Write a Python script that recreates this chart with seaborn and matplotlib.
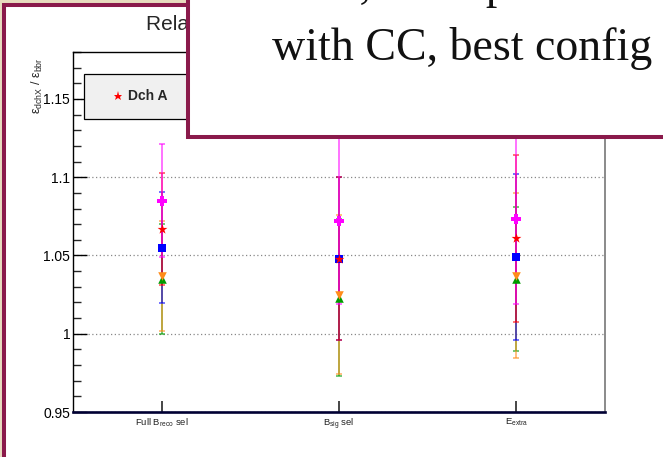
import matplotlib
matplotlib.use("Agg")
import matplotlib.pyplot as plt
import seaborn as sns
import pandas as pd
from matplotlib.patches import Rectangle
from matplotlib.lines import Line2D
from matplotlib.ticker import MultipleLocator, FixedLocator, FuncFormatter

# ---------------- data ----------------
categories = ["Full B$_{reco}$ sel", "B$_{sig}$ sel", "E$_{extra}$"]
series_names = ["Dch A", "Dch B", "Dch C", "Dch D", "Dch E"]

dch_a = [1.067, 1.048, 1.061]          # red stars
dch_a_err = [0.036, 0.052, 0.0535]
dch_b = [1.055, 1.048, 1.049]          # blue squares
dch_b_err = [0.0355, 0.052, 0.053]
dch_c = [1.035, 1.023, 1.035]          # green triangles
dch_c_err = [0.035, 0.050, 0.046]
dch_d = [1.037, 1.025, 1.037]          # orange triangles (down)
dch_d_err = [0.035, 0.051, 0.0527]
dch_e = [1.085, 1.072, 1.073]          # magenta crosses
dch_e_err = [0.036, 0.053, 0.054]

title_text = "Relative efficiency"
overlay_lines = ["~ 5%, an improvement of", "with CC, best config"]

# ---------------- style ----------------
sns.set_theme(style="white")
plt.rcParams["font.family"] = ["Liberation Sans", "DejaVu Sans"]
plt.rcParams["mathtext.fontset"] = "custom"
plt.rcParams["mathtext.rm"] = "Liberation Sans"
plt.rcParams["mathtext.it"] = "Liberation Sans:italic"
plt.rcParams["mathtext.bf"] = "Liberation Sans:bold"
plt.rcParams["mathtext.default"] = "rm"

W, H = 663, 457
fig = plt.figure(figsize=(W / 100, H / 100), dpi=100)
fig.patch.set_facecolor("#e8dcbf")

maroon = "#8a1a4b"
# slide frame
fig.add_artist(Rectangle((4 / W, -0.5), 2.0, 1.5 - 5 / H, transform=fig.transFigure,
                         facecolor="white", edgecolor=maroon, lw=2.9, zorder=-5))

ax = fig.add_axes([73 / W, 1 - 412 / H, (605 - 73) / W, (412 - 52) / H])
ax.set_facecolor("white")

series = [
    ("Dch C", dch_c, dch_c_err, "#009a00", "^", 38),
    ("Dch D", dch_d, dch_d_err, "#ff8c1a", "v", 38),
    ("Dch B", dch_b, dch_b_err, "#0000ff", "s", 40),
    ("Dch A", dch_a, dch_a_err, "#ff0000", "*", 55),
    ("Dch E", dch_e, dch_e_err, "#ff00ff", "P", 55),
]

rows = []
for name, vals, errs, col, mk, s in series:
    for i, (v, e) in enumerate(zip(vals, errs)):
        rows.append(dict(series=name, pos=i, value=v, err=e))
df = pd.DataFrame(rows)

for k, (name, vals, errs, col, mk, s) in enumerate(series):
    sub = df[df.series == name]
    ax.errorbar(sub.pos, sub.value, yerr=sub.err, fmt="none", ecolor=col,
                elinewidth=1.1, capsize=2, capthick=1.1, alpha=0.7, zorder=2 + k * 0.1)
for k, (name, vals, errs, col, mk, s) in enumerate(series):
    sub = df[df.series == name]
    sns.scatterplot(data=sub, x="pos", y="value", marker=mk, color=col, s=s,
                    linewidth=0, ax=ax, zorder=3 + k * 0.1, legend=False)

ax.set_xlim(-0.5, 2.5)
ax.set_ylim(0.95, 1.18)
ax.set_xlabel("")
ax.set_ylabel("")

ax.xaxis.set_major_locator(FixedLocator([0, 1, 2]))
ax.set_xticklabels(categories)
ax.yaxis.set_major_locator(MultipleLocator(0.05))
ax.yaxis.set_minor_locator(MultipleLocator(0.01))
ax.yaxis.set_major_formatter(FuncFormatter(lambda v, p: f"{v:g}"))
ax.tick_params(axis="y", which="major", direction="in", length=10, width=1,
               labelsize=10, pad=2, left=True, right=False, colors="black")
ax.tick_params(axis="y", which="minor", direction="in", length=5.5, width=1, left=True, right=False)
ax.tick_params(axis="x", which="major", direction="in", length=8, width=1.2,
               labelsize=6.8, pad=3.5, bottom=True, top=False, labelcolor="#222222")
ax.tick_params(axis="x", which="minor", bottom=False, top=False)

ax.yaxis.grid(True, which="major", linestyle=(0, (1, 2)), color="#888888", lw=0.9)
ax.xaxis.grid(False)
ax.set_axisbelow(True)

for side in ["left", "top"]:
    ax.spines[side].set_color("black")
    ax.spines[side].set_linewidth(1.0)
ax.spines["bottom"].set_color("#000033")
ax.spines["bottom"].set_linewidth(1.9)
ax.spines["right"].set_color("#777777")
ax.spines["right"].set_linewidth(1.2)

# legend box (ROOT TLegend look)
ax.add_patch(Rectangle(((84 - 73) / 532, (412 - 119) / 360), 0.6, 45 / 360,
                       transform=ax.transAxes, facecolor="#f0f0f0", edgecolor="black",
                       lw=0.9, zorder=4.8, clip_on=False))
handles = [Line2D([], [], linestyle="none", marker=mk, color=col,
                  markersize=(6.5 if mk == "*" else 5.5), markeredgewidth=0)
           for (name, vals, errs, col, mk, s) in sorted(series, key=lambda t: t[0])]
labels = sorted(series_names)
leg = ax.legend(handles, labels, loc="center left",
                bbox_to_anchor=((112 - 73) / 532, (412 - 96.5) / 360),
                borderaxespad=0, borderpad=0, frameon=False, ncol=5,
                handlelength=0.8, handletextpad=0.35, columnspacing=2.0,
                prop={"weight": "bold", "size": 10, "family": "Liberation Sans"})
leg.set_zorder(4.9)

# title and y label
fig.text(146 / W, 1 - 24 / H, title_text, ha="left", va="center", fontsize=15, zorder=1)
fig.text(37 / W, 1 - 57 / H, r"$ε_{dchX}$ / $ε_{bbr}$", rotation=90, ha="center",
         va="top", fontsize=9, zorder=1)

# overlaid slide text box
fig.add_artist(Rectangle((188 / W, 1 - 137 / H), 2.0, 2.0, transform=fig.transFigure,
                         facecolor="white", edgecolor=maroon, lw=2.9, zorder=10))
top_line = fig.text(262 / W, 1 + 2 / H, overlay_lines[0], ha="left", va="baseline",
                    fontsize=33, family="Liberation Serif", color="#111111", zorder=11)
fig.text(272 / W, 1 - 60 / H, overlay_lines[1], ha="left", va="baseline", fontsize=33,
         family="Liberation Serif", color="#111111", zorder=11)

fig.savefig("out.png", dpi=100)
